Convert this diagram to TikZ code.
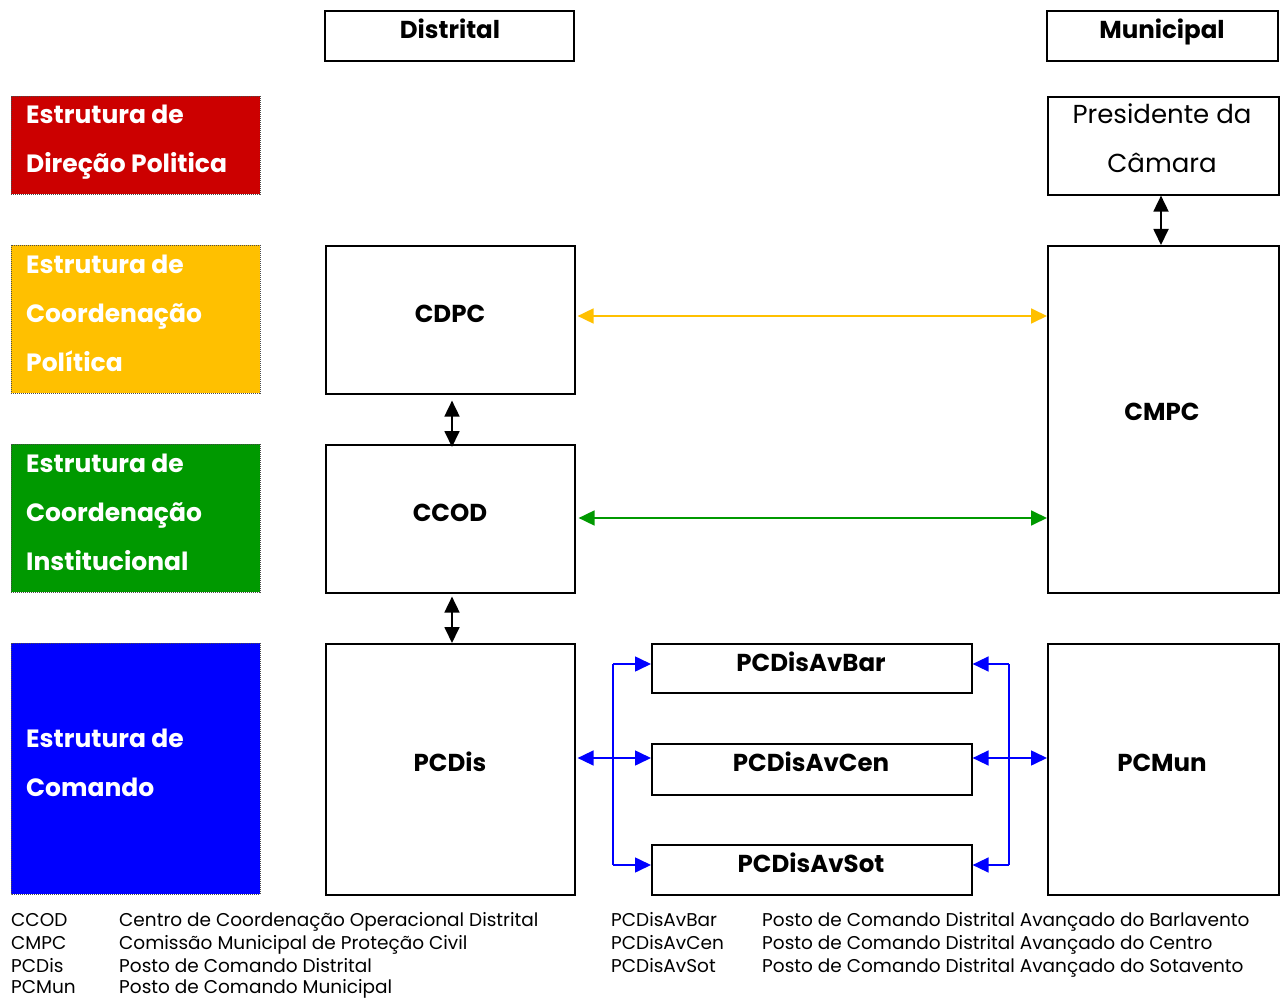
\documentclass[tikz,border=0pt]{standalone}
\usepackage{fontspec}
\setmainfont{Poppins}
\usetikzlibrary{arrows.meta}
\definecolor{cred}{HTML}{CC0000}
\definecolor{cyel}{HTML}{FFC000}
\definecolor{cgrn}{HTML}{009900}
\definecolor{cblu}{HTML}{0000FF}
\tikzset{
  box/.style={draw=black, line width=1.6pt, inner sep=0pt},
  cbox/.style={draw=black!70, line width=0.8pt, dash pattern=on 1pt off 1pt, inner sep=0pt},
  ctext/.style={anchor=mid west, text=white, font=\fontsize{25}{25}\selectfont\bfseries, inner sep=0pt},
  btext/.style={anchor=mid, font=\fontsize{24.5}{24.5}\selectfont\bfseries, inner sep=0pt},
  ptext/.style={anchor=mid, font=\fontsize{26}{26}\selectfont, inner sep=0pt},
  legtext/.style={anchor=mid west, font=\fontsize{18.5}{18.5}\selectfont, inner sep=0pt},
  arr/.style={line width=1.8pt, {Triangle[length=16pt,width=15pt]}-{Triangle[length=16pt,width=15pt]}},
  barr/.style={line width=1.6pt, draw=cblu, fill=cblu, -{Triangle[length=16pt,width=15pt]}},
  bline/.style={line width=1.6pt, draw=cblu},
}
\begin{document}
\begin{tikzpicture}[x=1pt,y=-1pt]
\useasboundingbox (0,0) rectangle (1283,1000);
% headers
\draw[box] (325,11) rectangle (574,61);
\node[btext] (hdis) at (450,36) {Distrital};
\draw[box] (1047,11) rectangle (1278,61);
\node[btext] (hmun) at (1162,36) {Municipal};
% colored boxes
\fill[cred] (11,96) rectangle (260,194); \draw[cbox] (11,96) rectangle (260,194);
\node[ctext] (r1) at (26,121) {Estrutura de};
\node[ctext] (r2) at (26,170) {Direção Politica};
\fill[cyel] (11,245) rectangle (260,393); \draw[cbox] (11,245) rectangle (260,393);
\node[ctext] (y1) at (26,271) {Estrutura de};
\node[ctext] (y2) at (26,320) {Coordenação};
\node[ctext] (y3) at (26,369) {Política};
\fill[cgrn] (11,444) rectangle (260,592); \draw[cbox] (11,444) rectangle (260,592);
\node[ctext] (g1) at (26,470) {Estrutura de};
\node[ctext] (g2) at (26,519) {Coordenação};
\node[ctext] (g3) at (26,568) {Institucional};
\fill[cblu] (11,643) rectangle (260,894); \draw[cbox] (11,643) rectangle (260,894);
\node[ctext] (b1) at (26,745) {Estrutura de};
\node[ctext] (b2) at (26,794) {Comando};
% main boxes
\node[box, minimum width=231pt, minimum height=98pt, anchor=north west] (pres) at (1047,96) {};
\node[ptext] (p1) at (1162,121) {Presidente da};
\node[ptext] (p2) at (1162,170) {Câmara};
\node[box, minimum width=249pt, minimum height=148pt, anchor=north west] (cdpc) at (325,245) {};
\node[btext] at (450,320) {CDPC};
\node[box, minimum width=231pt, minimum height=347pt, anchor=north west] (cmpc) at (1047,245) {};
\node[btext] at (1162,418) {CMPC};
\node[box, minimum width=249pt, minimum height=148pt, anchor=north west] (ccod) at (325,444) {};
\node[btext] at (450,519) {CCOD};
\node[box, minimum width=249pt, minimum height=251pt, anchor=north west] (pcdis) at (325,643) {};
\node[btext] at (450,769) {PCDis};
\node[box, minimum width=231pt, minimum height=251pt, anchor=north west] (pcmun) at (1047,643) {};
\node[btext] at (1162,769) {PCMun};
\node[box, minimum width=320pt, minimum height=49pt, anchor=north west] (bar) at (651,643) {};
\node[btext] at (811,669) {PCDisAvBar};
\node[box, minimum width=320pt, minimum height=51pt, anchor=north west] (cen) at (651,743) {};
\node[btext] at (811,769) {PCDisAvCen};
\node[box, minimum width=320pt, minimum height=50pt, anchor=north west] (sot) at (651,844) {};
\node[btext] at (811,870) {PCDisAvSot};
% black arrows
\draw[arr] (pres.south -| 1161,0) -- (cmpc.north -| 1161,0);
\draw[arr] ([yshift=-6pt]cdpc.south -| 452,0) -- ([yshift=-3pt]ccod.north -| 452,0);
\draw[arr] ([yshift=-3pt]ccod.south -| 452,0) -- (pcdis.north -| 452,0);
% colored arrows
\draw[arr, draw=cyel, fill=cyel] ([xshift=2pt]cdpc.east |- 0,316) -- (cmpc.west |- 0,316);
\draw[arr, draw=cgrn, fill=cgrn] ([xshift=3pt]ccod.east |- 0,518) -- (cmpc.west |- 0,518);
% blue
\coordinate (lt) at (613,664);
\coordinate (lb) at (613,865);
\coordinate (rt) at (1009,664);
\coordinate (rb) at (1009,865);
\draw[bline] (lt) -- (lb);
\draw[bline] (rt) -- (rb);
\draw[barr] (lt) -- (bar.west |- lt);
\draw[barr] (lb) -- (sot.west |- lb);
\draw[barr] (rt) -- (bar.east |- rt);
\draw[barr] (rb) -- (sot.east |- rb);
\draw[arr, draw=cblu, fill=cblu, line width=1.6pt] ([xshift=2pt]pcdis.east |- 0,758) -- (cen.west |- 0,758);
\draw[arr, draw=cblu, fill=cblu, line width=1.6pt] (cen.east |- 0,758) -- (pcmun.west |- 0,758);
% legend
\node[legtext] (l1a) at (11,924) {CCOD};
\node[legtext] (l1b) at (119,924) {Centro de Coordenação Operacional Distrital};
\node[legtext] (l2a) at (11,947) {CMPC};
\node[legtext] (l2b) at (119,947) {Comissão Municipal de Proteção Civil};
\node[legtext] (l3a) at (11,970) {PCDis};
\node[legtext] (l3b) at (119,970) {Posto de Comando Distrital};
\node[legtext] (l4a) at (11,991) {PCMun};
\node[legtext] (l4b) at (119,991) {Posto de Comando Municipal};
\node[legtext] (m1a) at (611,924) {PCDisAvBar};
\node[legtext] (m1b) at (762,924) {Posto de Comando Distrital Avançado do Barlavento};
\node[legtext] (m2a) at (611,947) {PCDisAvCen};
\node[legtext] (m2b) at (762,947) {Posto de Comando Distrital Avançado do Centro};
\node[legtext] (m3a) at (611,970) {PCDisAvSot};
\node[legtext] (m3b) at (762,970) {Posto de Comando Distrital Avançado do Sotavento};
\end{tikzpicture}
\end{document}
